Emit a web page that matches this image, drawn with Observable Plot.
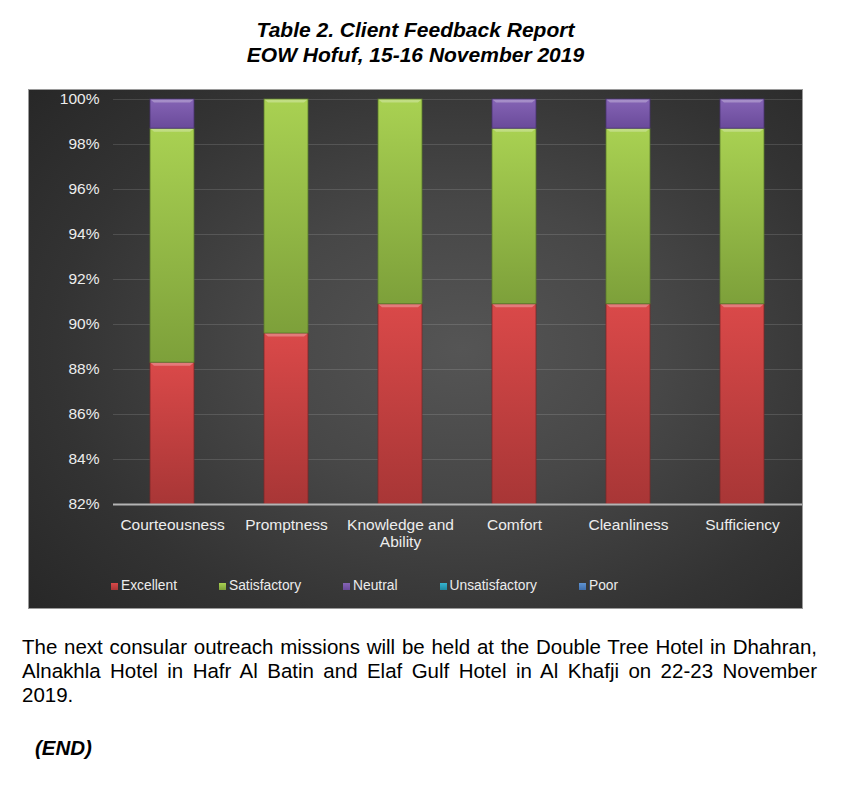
<!DOCTYPE html>
<html><head><meta charset="utf-8">
<script src="https://cdn.jsdelivr.net/npm/d3@7"></script>
<script src="https://cdn.jsdelivr.net/npm/@observablehq/plot@0.6"></script>
<style>
body{margin:0;background:#fff;font-family:"Liberation Sans",Arial,sans-serif;}
#page{position:relative;width:860px;height:807px;overflow:hidden;}
.title{position:absolute;left:0;top:17px;width:831px;text-align:center;font-weight:bold;font-style:italic;font-size:21px;line-height:25px;color:#000;}
#panel{position:absolute;left:28px;top:89px;width:775px;height:520px;
  box-shadow:inset 0 0 0 1px #9a9a9a;
  background:radial-gradient(ellipse 75% 80% at 56% 50%, #555 0%, #474747 35%, #333 70%, #262626 100%);}
#chart{position:absolute;left:0;top:0;}
#legend{position:absolute;left:83px;top:489px;display:flex;gap:42px;font-size:13.8px;color:#ececec;line-height:16px;white-space:nowrap;}
#legend .item{display:flex;align-items:center;}
#legend .sw{width:7px;height:7px;margin-right:3px;display:inline-block;}
.body{position:absolute;left:22px;top:635px;width:795px;font-size:20.5px;line-height:24px;color:#000;}
.body .j{text-align:justify;text-align-last:justify;}
.end{position:absolute;left:35px;top:736px;font-size:20.5px;line-height:24px;font-weight:bold;font-style:italic;}
</style></head>
<body>
<div id="page">
  <div class="title">Table 2. Client Feedback Report<br>EOW Hofuf, 15-16 November 2019</div>
  <div id="panel"><div id="chart"></div><div id="legend"></div></div>
  <div class="body">
    <div class="j">The next consular outreach missions will be held at the Double Tree Hotel in Dhahran,</div>
    <div class="j">Alnakhla Hotel in Hafr Al Batin and Elaf Gulf Hotel in Al Khafji on 22-23 November</div>
    <div>2019.</div>
  </div>
  <div class="end">(END)</div>
</div>
<script>
const categories = ["Courteousness", "Promptness", "Knowledge and Ability", "Comfort", "Cleanliness", "Sufficiency"];
const series = ["Excellent", "Satisfactory", "Neutral", "Unsatisfactory", "Poor"];
const excellent = [88.3, 89.6, 90.9, 90.9, 90.9, 90.9];
const satisfactory = [10.4, 10.4, 9.1, 7.8, 7.8, 7.8];
const neutral = [1.3, 0, 0, 1.3, 1.3, 1.3];
const unsatisfactory = [0, 0, 0, 0, 0, 0];
const poor = [0, 0, 0, 0, 0, 0];
const yTicks = [82, 84, 86, 88, 90, 92, 94, 96, 98, 100];
const colors = ["#c94040", "#94bd48", "#7656a6", "#2aa3bf", "#4f81bd"];
const gradTop = ["#da4949", "#a9d152", "#8564b5", "#36b4d0", "#5f93d2"];
const gradBottom = ["#a83636", "#7da03a", "#6a4a9a", "#1f88a0", "#3f6fae"];
const edge = ["#7a2828", "#5a7a2a", "#4a3270", "#16606f", "#2c4f80"];

const valuesBySeries = [excellent, satisfactory, neutral, unsatisfactory, poor];
const table = [];
series.forEach((s, i) => categories.forEach((c, j) => table.push({category: c, series: s, value: valuesBySeries[i][j]})));
const data = table.filter(d => d.value > 0);

function wrap(d) {
  const words = d.split(" "); const lines = []; let cur = "";
  for (const w of words) {
    if (cur && (cur + " " + w).length > 13) { lines.push(cur); cur = w; }
    else cur = cur ? cur + " " + w : w;
  }
  lines.push(cur); return lines.join("\n");
}

const font = "Liberation Sans, Arial, sans-serif";
const chart = Plot.plot({
  width: 775, height: 470,
  marginLeft: 85, marginRight: 1, marginTop: 10, marginBottom: 55,
  style: {background: "transparent", color: "#ededed", fontFamily: font, fontSize: "15.5px", overflow: "visible"},
  x: {domain: categories, paddingInner: 0.61, paddingOuter: 0.305, axis: null},
  y: {domain: [82, 100], clamp: true, axis: null},
  color: {domain: series, range: colors},
  marks: [
    Plot.ruleY(yTicks.filter(t => t > 82), {stroke: "white", strokeOpacity: 0.13}),
    Plot.barY(data, {x: "category", y: "value", fill: "series"}),
    Plot.ruleY([82], {stroke: "#b4b4b4", strokeWidth: 2}),
    Plot.axisY({ticks: yTicks, tickFormat: d => d + "%", tickSize: 0, tickPadding: 14, label: null, fontSize: 15.5}),
    Plot.axisX({tickSize: 0, tickPadding: 12.7, tickFormat: wrap, lineHeight: 1.12, label: null, fontSize: 15.5})
  ]
});
document.getElementById("chart").appendChild(chart);

const svg = d3.select(chart);
const defs = svg.insert("defs", ":first-child");
series.forEach((s, i) => {
  const g = defs.append("linearGradient").attr("id", "grad" + i).attr("x1", 0).attr("y1", 0).attr("x2", 0).attr("y2", 1);
  g.append("stop").attr("offset", "0%").attr("stop-color", gradTop[i]);
  g.append("stop").attr("offset", "100%").attr("stop-color", gradBottom[i]);
});
svg.selectAll("g[aria-label='bar'] rect").each(function() {
  const i = colors.indexOf(this.getAttribute("fill"));
  if (i < 0) return;
  const r = d3.select(this);
  r.attr("fill", `url(#grad${i})`).attr("stroke", edge[i]).attr("stroke-width", 1).attr("stroke-opacity", 0.8);
  const x = +r.attr("x"), y = +r.attr("y"), w = +r.attr("width");
  d3.select(this.parentNode).append("path")
    .attr("d", `M${x + 0.5},${y + 0.5}H${x + w - 0.5}L${x + w - 4},${y + 3.5}H${x + 4}Z`)
    .attr("fill", "white").attr("fill-opacity", 0.28);
});

const legend = d3.select("#legend");
series.forEach((s, i) => {
  const item = legend.append("div").attr("class", "item");
  item.append("span").attr("class", "sw").style("background", `linear-gradient(${gradTop[i]}, ${gradBottom[i]})`);
  item.append("span").text(s);
});
</script>
</body></html>
